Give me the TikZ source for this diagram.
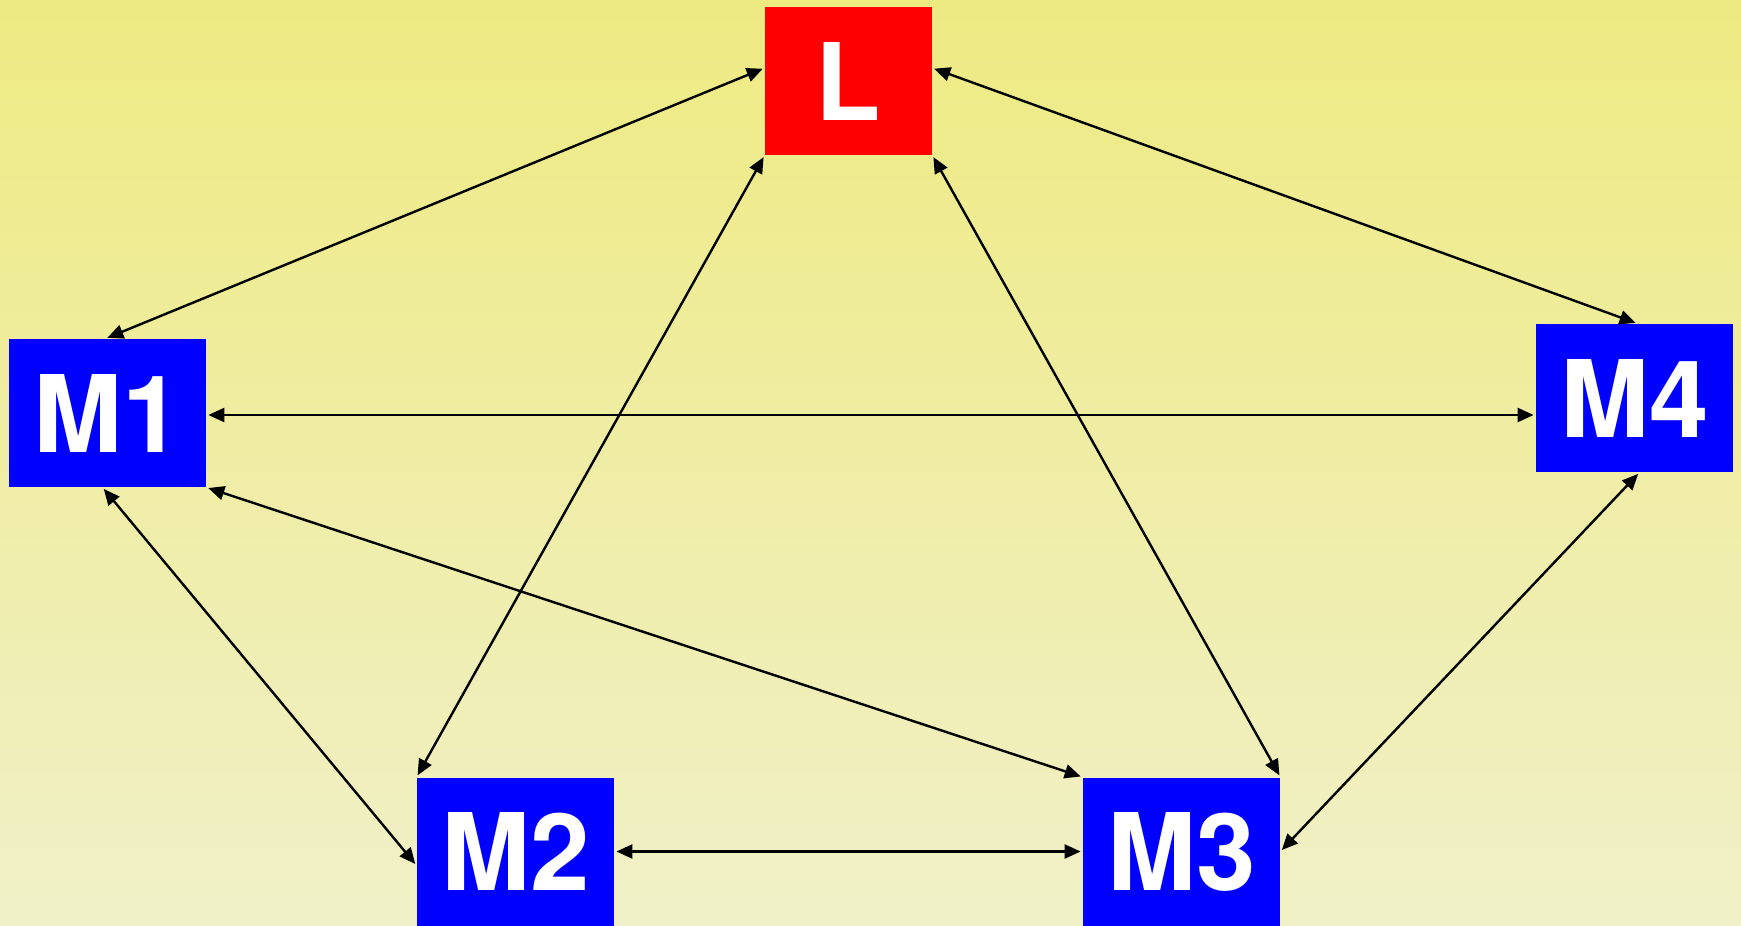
\documentclass[tikz,border=0pt]{standalone}
\usepackage{fontspec}
\setmainfont{TeX Gyre Heros}
\usetikzlibrary{arrows.meta,calc}
\definecolor{bgtop}{RGB}{238,234,130}
\definecolor{bgbot}{RGB}{240,240,200}
\definecolor{boxblue}{RGB}{0,0,255}
\definecolor{boxred}{RGB}{255,0,0}
\begin{document}
\begin{tikzpicture}[x=0.5pt,y=-0.5pt,
  box/.style={fill=boxblue,draw=none,inner sep=0pt,minimum width=98.5pt,minimum height=74pt,
    text=white,font=\fontsize{53.5}{60}\selectfont\bfseries},
  link/.style={line width=1.2pt,{Triangle[length=8pt,width=7pt]}-{Triangle[length=8pt,width=7pt]},
    shorten <=1pt,shorten >=1pt}]
\shade[top color=bgtop,bottom color=bgbot] (0,0) rectangle (1741,926);
\useasboundingbox (0,0) rectangle (1741,926);
\node[box,fill=boxred,minimum width=83.5pt] (L) at (848.5,81) {L};
\node[box] (M1) at (107.5,413) {M1};
\node[box] (M4) at (1634.5,398) {M4};
\node[box] (M2) at (515.5,851.5) {M2};
\node[box] (M3) at (1181.5,851.5) {M3};
\draw[link] ($(M1.north)+(-2,0)$) -- ($(L.west)+(0,-13)$);
\draw[link] ($(L.east)+(0,-13)$) -- ($(M4.north)+(3,0)$);
\draw[link] (L.south west) -- (M2.north west);
\draw[link] (L.south east) -- (M3.north east);
\draw[link] ($(M1.east)+(0,2)$) -- (M4.west |- {$(M1.east)+(0,2)$});
\draw[link] (M1.south east) -- (M3.north west);
\draw[link] ($(M1.south)+(-5,0)$) -- ($(M2.west)+(0,14)$);
\draw[link] (M2.east) -- (M3.west);
\draw[link] ($(M4.south)+(5,0)$) -- (M3.east);
\end{tikzpicture}
\end{document}
